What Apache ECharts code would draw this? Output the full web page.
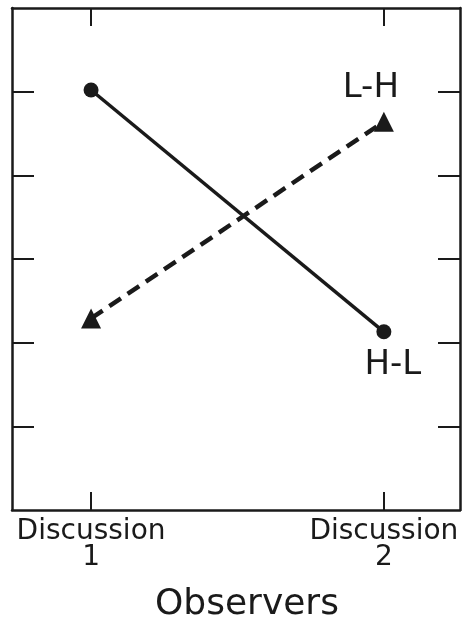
<!DOCTYPE html>
<html><head><meta charset="utf-8">
<script src="https://cdn.jsdelivr.net/npm/echarts@6/dist/echarts.min.js"></script>
<style>html,body{margin:0;padding:0;background:#fff}#c{width:472px;height:631px}</style>
</head><body><div id="c"></div>
<script>
const categories = ['Discussion\n1', 'Discussion\n2'];
const categoryPos = [1, 2];
const hlValues = [5.02, 2.13];   // circles, solid
const lhValues = [2.29, 4.64];   // triangles, dashed
const yTicks = [0, 1, 2, 3, 4, 5, 6];
const xTitle = 'Observers';
const hlName = 'H-L';
const lhName = 'L-H';

const ink = '#1a1a1a';
const font = 'DejaVu Sans';
const chart = echarts.init(document.getElementById('c'), null, {renderer: 'canvas'});
const axisCommon = {
  type: 'value', min: 0.73, max: 2.26,
  axisLine: {show: true, onZero: false, lineStyle: {color: ink, width: 2.5}},
  axisTick: {show: true, inside: true, length: 18, customValues: categoryPos, lineStyle: {color: ink, width: 2}},
  splitLine: {show: false}
};
const yCommon = {
  type: 'value', min: yTicks[0], max: yTicks[yTicks.length - 1], interval: 1,
  axisLine: {show: true, onZero: false, lineStyle: {color: ink, width: 2.5}},
  axisTick: {show: true, inside: true, length: 22, customValues: yTicks.slice(1, -1), lineStyle: {color: ink, width: 2}},
  axisLabel: {show: false}, splitLine: {show: false}
};
chart.setOption({
  backgroundColor: '#fff',
  animation: false,
  grid: {left: 12, right: 12, top: 8, bottom: 121},
  xAxis: [
    Object.assign({}, axisCommon, {position: 'bottom',
      axisLabel: {show: true, customValues: categoryPos, margin: 9, color: ink, fontFamily: font, fontSize: 28, lineHeight: 26,
        formatter: v => categories[categoryPos.indexOf(v)] || ''}}),
    Object.assign({}, axisCommon, {position: 'top', axisLabel: {show: false}})
  ],
  yAxis: [
    Object.assign({}, yCommon, {position: 'left'}),
    Object.assign({}, yCommon, {position: 'right'})
  ],
  graphic: [{type: 'text', left: 155, top: 587, style: {text: xTitle, font: '36px "DejaVu Sans"', fill: ink}}],
  series: [
    {type: 'line', name: hlName,
     data: categoryPos.map((x, i) => {
       const d = {value: [x, hlValues[i]]};
       if (i === 1) d.label = {show: true, formatter: hlName, position: 'inside', offset: [9, 33], color: ink, fontFamily: font, fontSize: 34};
       return d;
     }),
     symbol: 'circle', symbolSize: 15,
     itemStyle: {color: ink}, lineStyle: {color: ink, width: 3.5, type: 'solid'}},
    {type: 'line', name: lhName,
     data: categoryPos.map((x, i) => {
       const d = {value: [x, lhValues[i]]};
       if (i === 1) d.label = {show: true, formatter: lhName, position: 'inside', offset: [-13, -34], color: ink, fontFamily: font, fontSize: 34};
       return d;
     }),
     symbol: 'triangle', symbolSize: 20,
     itemStyle: {color: ink}, lineStyle: {color: ink, width: 4.5, type: [14, 8]}}
  ]
});
</script></body></html>
